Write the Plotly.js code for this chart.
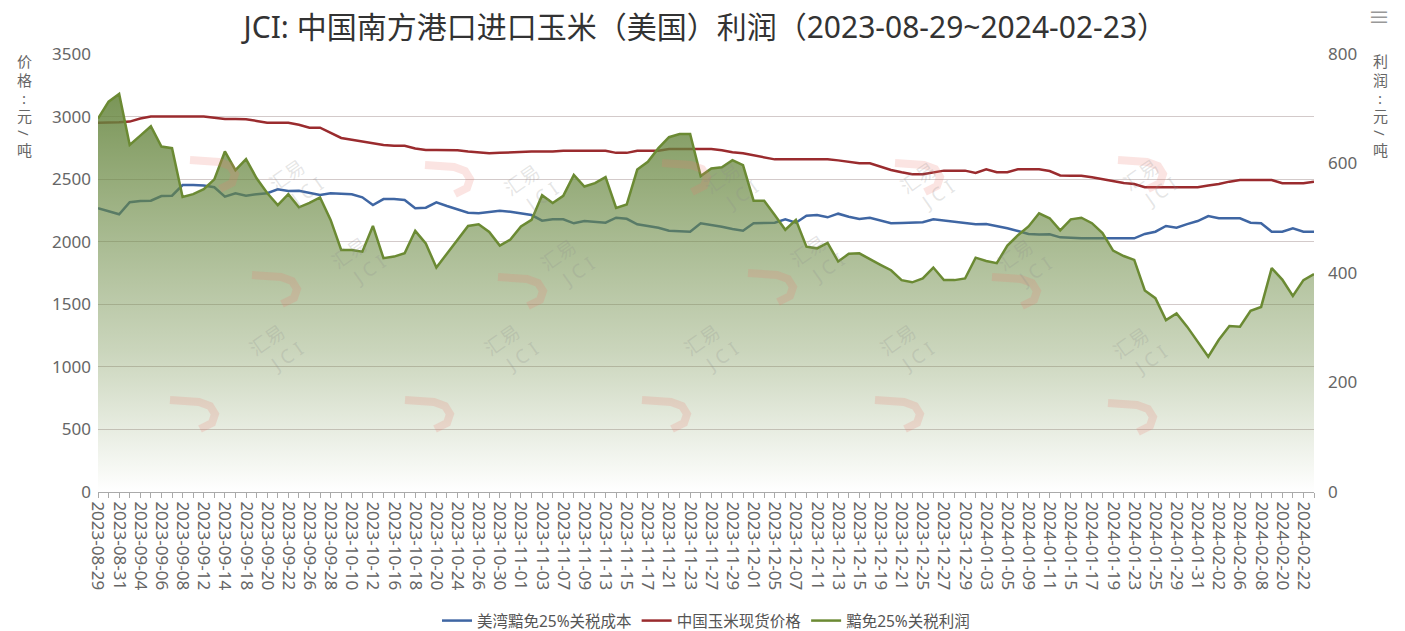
<!DOCTYPE html>
<html>
<head>
<meta charset="utf-8">
<script src="https://cdn.plot.ly/plotly-3.0.1.min.js"></script>
<style>
html,body{margin:0;padding:0;background:#fff;}
#chart{width:1405px;height:631px;}
</style>
</head>
<body>
<div id="chart"></div>
<script>
// ---- data ----
const dates = [
"2023-08-29","2023-08-30","2023-08-31","2023-09-01","2023-09-04","2023-09-05","2023-09-06","2023-09-07","2023-09-08","2023-09-11",
"2023-09-12","2023-09-13","2023-09-14","2023-09-15","2023-09-18","2023-09-19","2023-09-20","2023-09-21","2023-09-22","2023-09-25",
"2023-09-26","2023-09-27","2023-09-28","2023-10-09","2023-10-10","2023-10-11","2023-10-12","2023-10-13","2023-10-16","2023-10-17",
"2023-10-18","2023-10-19","2023-10-20","2023-10-23","2023-10-24","2023-10-25","2023-10-26","2023-10-27","2023-10-30","2023-10-31",
"2023-11-01","2023-11-02","2023-11-03","2023-11-06","2023-11-07","2023-11-08","2023-11-09","2023-11-10","2023-11-13","2023-11-14",
"2023-11-15","2023-11-16","2023-11-17","2023-11-20","2023-11-21","2023-11-22","2023-11-23","2023-11-24","2023-11-27","2023-11-28",
"2023-11-29","2023-11-30","2023-12-01","2023-12-04","2023-12-05","2023-12-06","2023-12-07","2023-12-08","2023-12-11","2023-12-12",
"2023-12-13","2023-12-14","2023-12-15","2023-12-18","2023-12-19","2023-12-20","2023-12-21","2023-12-22","2023-12-25","2023-12-26",
"2023-12-27","2023-12-28","2023-12-29","2024-01-02","2024-01-03","2024-01-04","2024-01-05","2024-01-08","2024-01-09","2024-01-10",
"2024-01-11","2024-01-12","2024-01-15","2024-01-16","2024-01-17","2024-01-18","2024-01-19","2024-01-22","2024-01-23","2024-01-24",
"2024-01-25","2024-01-26","2024-01-29","2024-01-30","2024-01-31","2024-02-01","2024-02-02","2024-02-05","2024-02-06","2024-02-07",
"2024-02-08","2024-02-19","2024-02-20","2024-02-21","2024-02-22","2024-02-23"
];

// 美湾黯免25%关税成本 (元/吨, left axis)
const usGulfCost = [
2267,2240,2219,2315,2325,2328,2365,2368,2453,2453,
2450,2435,2360,2387,2368,2380,2387,2419,2405,2408,
2390,2373,2387,2380,2379,2355,2293,2341,2341,2333,
2267,2272,2315,2285,2260,2232,2227,2238,2248,2240,
2225,2213,2168,2179,2179,2147,2165,2158,2152,2192,
2183,2139,2125,2112,2088,2082,2080,2147,2135,2120,
2101,2088,2147,2150,2152,2179,2152,2208,2213,2195,
2224,2200,2181,2192,2170,2147,2150,2152,2155,2179,
2170,2160,2150,2139,2141,2125,2107,2085,2062,2058,
2060,2035,2030,2027,2027,2027,2027,2027,2027,2062,
2080,2126,2112,2141,2165,2205,2187,2187,2187,2152,
2147,2080,2080,2107,2080,2080
];

// 中国玉米现货价格 (元/吨, left axis)
const cnSpotPrice = [
2951,2951,2955,2960,2985,3000,3000,3000,3000,3000,
3000,2990,2980,2980,2978,2965,2951,2951,2951,2935,
2911,2911,2870,2829,2815,2800,2785,2773,2767,2767,
2745,2733,2733,2733,2730,2720,2710,2706,2710,2715,
2715,2720,2720,2720,2727,2727,2727,2727,2727,2710,
2710,2727,2727,2727,2740,2740,2740,2740,2740,2730,
2715,2706,2690,2674,2658,2658,2658,2658,2658,2658,
2650,2640,2627,2627,2600,2573,2555,2539,2539,2555,
2568,2568,2568,2550,2579,2555,2555,2579,2579,2579,
2565,2530,2528,2528,2515,2500,2480,2470,2461,2435,
2435,2435,2435,2435,2435,2450,2461,2480,2493,2493,
2493,2493,2467,2467,2467,2480
];

// 黯免25%关税利润 (元/吨, right axis)
const profit = [
682,713,727,634,651,668,631,628,539,544,
553,571,622,588,608,573,546,524,544,520,
528,538,497,442,442,439,486,427,430,436,
477,454,410,435,460,486,489,475,450,461,
485,497,542,528,541,579,558,564,575,519,
525,589,603,628,648,654,654,577,591,593,
606,597,532,532,506,479,497,448,445,455,
421,435,436,425,415,405,387,383,390,410,
387,387,390,428,422,418,450,469,485,509,
500,478,498,501,491,473,441,431,424,368,
354,314,326,302,275,247,278,303,302,331,
338,409,388,358,387,398
];

const seriesNames = ["美湾黯免25%关税成本","中国玉米现货价格","黯免25%关税利润"];
const titleText = "JCI: 中国南方港口进口玉米（美国）利润（2023-08-29~2024-02-23）";
const leftAxisTitle = ["价","格",":","元","/","吨"];
const rightAxisTitle = ["利","润",":","元","/","吨"];

// ---- chart ----
const FONT = "'Noto Sans', 'Noto Sans CJK SC', sans-serif";
const W = 1405, H = 631, ML = 98, MR = 91, MT = 54, MB = 139;
const PW = W - ML - MR, PH = H - MT - MB;
const px = x => (x - ML) / PW;          // page px -> paper x
const py = y => (H - MB - y) / PH;      // page px -> paper y

const traces = [
  {
    x: dates, y: usGulfCost, name: seriesNames[0], type: "scatter", mode: "lines",
    line: {color: "#3f66a3", width: 2.5}, yaxis: "y"
  },
  {
    x: dates, y: cnSpotPrice, name: seriesNames[1], type: "scatter", mode: "lines",
    line: {color: "#9a2b2e", width: 2.5}, yaxis: "y"
  },
  // area of the profit series (gradient fill, no legend entry)
  {
    x: dates, y: profit, name: seriesNames[2], type: "scatter", mode: "lines",
    line: {color: "rgba(0,0,0,0)", width: 0}, yaxis: "y2", showlegend: false, hoverinfo: "skip",
    fill: "tozeroy",
    fillgradient: {
      type: "vertical",
      start: 0, stop: 727,
      colorscale: [[0, "rgba(110,140,70,0.0)"], [0.35, "rgba(110,140,70,0.36)"], [1, "rgba(100,132,60,0.86)"]]
    }
  },
  // line of the profit series
  {
    x: dates, y: profit, name: seriesNames[2], type: "scatter", mode: "lines",
    line: {color: "#6b8a33", width: 2.5}, yaxis: "y2"
  }
];

const annotations = [];
const shapes = [];
// vertical axis titles, one character per line
const titleRows = [61, 80, 98, 116, 133, 150];
function vertTitle(chars, xPix) {
  chars.forEach((c, k) => {
    annotations.push({
      xref: "paper", yref: "paper", x: px(xPix), y: py(titleRows[k]),
      xanchor: "center", yanchor: "middle", text: c, showarrow: false,
      textangle: c === "/" ? 90 : 0,
      font: {family: FONT, size: 15, color: "#666"}
    });
  });
}
vertTitle(leftAxisTitle, 24);
vertTitle(rightAxisTitle, 1380);

// menu icon
annotations.push({xref:"paper", yref:"paper", x:px(1379), y:py(16), text:"≡", showarrow:false,
  font:{family:FONT, size:22, color:"#999"}, xanchor:"center", yanchor:"middle"});

// watermark (hook + text)
const wmHooks = [
  [215,170],[450,175],[687,173],[920,173],[1143,170],
  [277,285],[523,287],[773,283],[1017,287],
  [195,410],[430,410],[667,410],[900,410],[1133,413]
];
wmHooks.forEach(h => {
  const [cx, cy] = h;
  annotations.push({xref:"paper", yref:"paper", x:px(cx+42), y:py(cy-22), text:"汇易<br>   J C I", showarrow:false,
    textangle:-35, font:{family:FONT, size:19, color:"rgba(140,140,140,0.22)"}});
  const pts = [[cx-25, cy-10], [cx+4, cy-8], [cx+15, cy-4], [cx+20, cy+4], [cx+17, cy+13], [cx+5, cy+19]];
  const d = "M " + pts.map(p => px(p[0]) + "," + py(p[1])).join(" L ");
  shapes.push({type:"path", xref:"paper", yref:"paper", path:d, layer:"above",
    line:{color:"rgba(235,120,110,0.2)", width:8}});
});

const layout = {
  width: W, height: H,
  paper_bgcolor: "#fff", plot_bgcolor: "#fff",
  margin: {l: ML, r: MR, t: MT, b: MB, autoexpand: false},
  font: {family: FONT, color: "#666"},
  title: {
    text: titleText, x: 0.502, xref: "container", y: 0.957, yref: "container",
    xanchor: "center", yanchor: "middle",
    font: {family: FONT, size: 30, color: "#333"}
  },
  showlegend: true,
  legend: {
    orientation: "h", x: 0.5, xanchor: "center", y: py(621), yanchor: "middle",
    font: {family: FONT, size: 15.5, color: "#555"}, bgcolor: "rgba(0,0,0,0)",
    traceorder: "normal", itemwidth: 30
  },
  xaxis: {
    type: "category", range: [0, dates.length - 1], automargin: false,
    tickmode: "linear", tick0: 0, dtick: 2,
    tickangle: 90, tickfont: {family: FONT, size: 17, color: "#666"},
    ticks: "outside", ticklen: 5, tickcolor: "#aaa",
    minor: {ticks: "outside", ticklen: 5, tickcolor: "#aaa", dtick: 1},
    showline: true, linecolor: "#aaa", linewidth: 1,
    showgrid: false, zeroline: false, fixedrange: true
  },
  yaxis: {
    range: [0, 3500], dtick: 500, tick0: 0, automargin: false,
    tickfont: {family: FONT, size: 17, color: "#666"},
    showgrid: true, gridcolor: "#d3caca", gridwidth: 1,
    zeroline: false, showline: false, ticks: "", ticklabelstandoff: 6
  },
  yaxis2: {
    range: [0, 800], dtick: 200, tick0: 0, overlaying: "y", side: "right", automargin: false,
    tickfont: {family: FONT, size: 17, color: "#666"},
    showgrid: false, zeroline: false, showline: false, ticks: "", ticklabelstandoff: 13
  },
  annotations: annotations,
  shapes: shapes
};

Plotly.newPlot("chart", traces, layout, {displayModeBar: false, responsive: false});
</script>
</body>
</html>
